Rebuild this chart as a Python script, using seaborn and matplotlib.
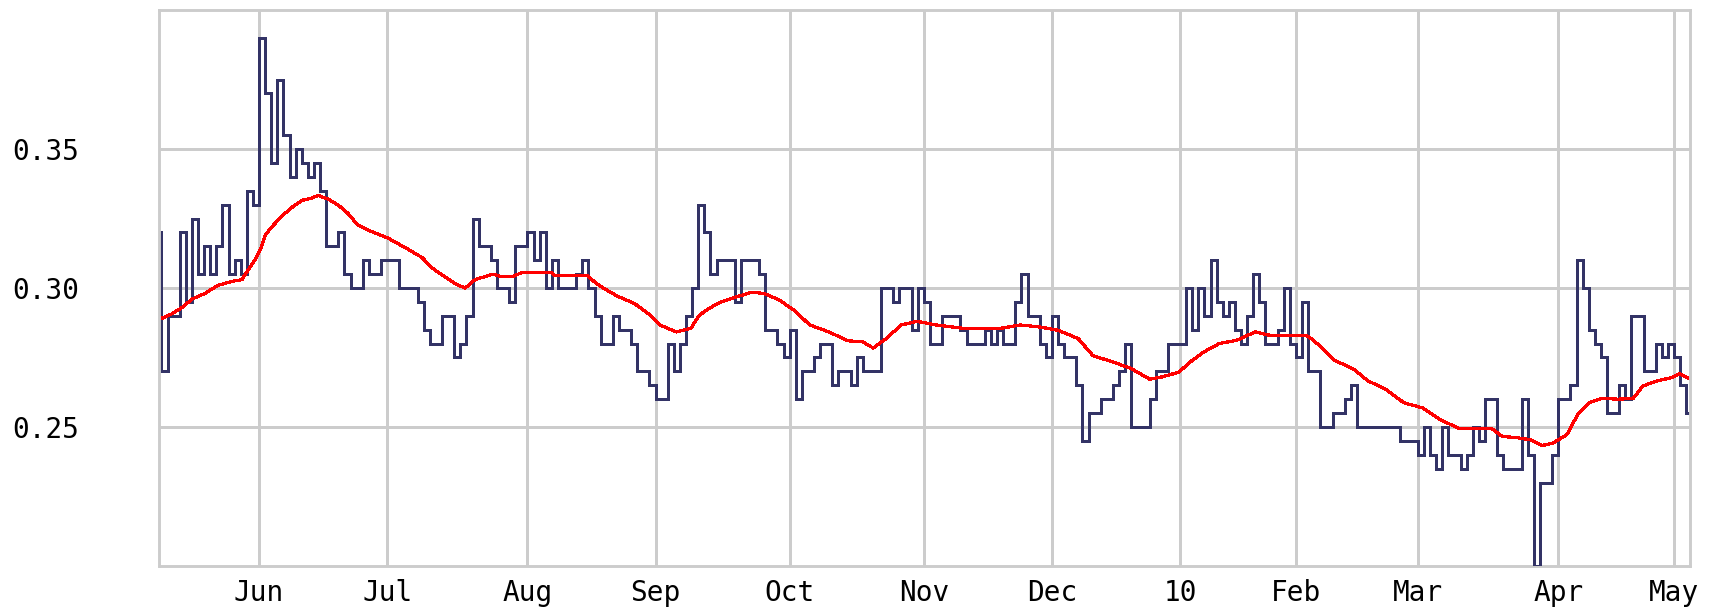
import numpy as np
import pandas as pd
import seaborn as sns
import matplotlib.pyplot as plt

# daily closes, one list per month (trading days only)
may09 = [0.32, 0.27, 0.29, 0.29, 0.32, 0.295, 0.325, 0.305, 0.315, 0.305, 0.315,
         0.33, 0.305, 0.31, 0.305, 0.335, 0.33]
jun09 = [0.39, 0.37, 0.345, 0.375, 0.355, 0.34, 0.35, 0.345, 0.34, 0.345, 0.335,
         0.315, 0.315, 0.32, 0.305, 0.30, 0.30, 0.31, 0.305, 0.305, 0.31]
jul09 = [0.31, 0.31, 0.30, 0.30, 0.30, 0.295, 0.285, 0.28, 0.28, 0.29, 0.29, 0.275,
         0.28, 0.29, 0.325, 0.315, 0.315, 0.31, 0.30, 0.30, 0.295, 0.315, 0.315]
aug09 = [0.32, 0.31, 0.32, 0.30, 0.31, 0.30, 0.30, 0.30, 0.305, 0.31, 0.30, 0.29,
         0.28, 0.28, 0.29, 0.285, 0.285, 0.28, 0.27, 0.27, 0.265]
sep09 = [0.26, 0.26, 0.28, 0.27, 0.28, 0.29, 0.30, 0.33, 0.32, 0.305, 0.31, 0.31,
         0.31, 0.295, 0.31, 0.31, 0.31, 0.305, 0.285, 0.285, 0.28, 0.275]
oct09 = [0.285, 0.26, 0.27, 0.27, 0.275, 0.28, 0.28, 0.265, 0.27, 0.27, 0.265, 0.275,
         0.27, 0.27, 0.27, 0.30, 0.30, 0.295, 0.30, 0.30, 0.285, 0.30]
nov09 = [0.295, 0.28, 0.28, 0.29, 0.29, 0.29, 0.285, 0.28, 0.28, 0.28, 0.285, 0.28,
         0.285, 0.28, 0.28, 0.295, 0.305, 0.29, 0.29, 0.28, 0.275]
dec09 = [0.29, 0.28, 0.275, 0.275, 0.265, 0.245, 0.255, 0.255, 0.26, 0.26, 0.265,
         0.27, 0.28, 0.25, 0.25, 0.25, 0.26, 0.27, 0.27, 0.28, 0.28]
jan10 = [0.28, 0.30, 0.285, 0.30, 0.29, 0.31, 0.295, 0.29, 0.295, 0.285, 0.28, 0.29,
         0.305, 0.295, 0.28, 0.28, 0.285, 0.30, 0.28]
feb10 = [0.275, 0.295, 0.27, 0.27, 0.25, 0.25, 0.255, 0.255, 0.26, 0.265, 0.25, 0.25,
         0.25, 0.25, 0.25, 0.25, 0.25, 0.245, 0.245, 0.245]
mar10 = [0.24, 0.25, 0.24, 0.235, 0.25, 0.24, 0.24, 0.235, 0.24, 0.25, 0.245, 0.26,
         0.26, 0.24, 0.235, 0.235, 0.235, 0.26, 0.24, 0.20, 0.23, 0.23, 0.24]
apr10 = [0.26, 0.26, 0.265, 0.31, 0.30, 0.285, 0.28, 0.275, 0.255, 0.255, 0.265, 0.26,
         0.29, 0.29, 0.27, 0.27, 0.28, 0.275, 0.28]
may10 = [0.275, 0.265, 0.255, 0.24]

month_labels = ["Jun", "Jul", "Aug", "Sep", "Oct", "Nov", "Dec", "10",
                "Feb", "Mar", "Apr", "May"]

# moving average (red), trading-day position and value
ma_pos = [0.0, 1.1, 2.7, 4.4, 6.0, 8.1, 10.3, 12.6, 14.2, 15.2, 16.3, 17.2, 18.0,
          19.1, 20.8, 22.4, 24.0, 25.7, 26.7, 28.3, 30.0, 31.6, 33.2, 34.9, 38.1,
          41.4, 43.7, 45.5, 47.5, 49.6, 50.8, 52.4, 55.4, 56.8, 58.5, 60.1, 65.0,
          65.5, 70.9, 72.1, 73.4, 75.8, 78.5, 81.3, 82.7, 85.4, 87.8, 89.1, 90.3,
          92.2, 94.7, 97.8, 99.8, 102.2, 104.7, 107.3, 110.4, 113.6, 116.0, 117.7,
          119.8, 122.3, 124.9, 128.0, 132.4, 138.6, 141.8, 144.9, 148.0, 151.3,
          153.7, 157.5, 160.0, 163.0, 165.0, 167.8, 169.6, 171.9, 174.4, 177.3,
          180.3, 182.7, 186.8, 188.6, 189.5, 191.1, 193.4, 196.4, 198.8, 201.7,
          204.7, 207.7, 210.6, 213.6, 216.7, 219.0, 220.8, 223.1, 225.5, 227.3,
          229.1, 231.4, 233.2, 235.0, 237.2, 239.8, 242.3, 243.9, 246.3, 248.6,
          249.9, 251.7]
ma_val = [0.290, 0.289, 0.2907, 0.293, 0.296, 0.298, 0.301, 0.3024, 0.303, 0.3065,
          0.310, 0.3137, 0.319, 0.322, 0.326, 0.329, 0.3315, 0.3324, 0.3333, 0.332,
          0.3298, 0.3268, 0.3226, 0.3208, 0.318, 0.314, 0.311, 0.307, 0.304, 0.301,
          0.300, 0.303, 0.305, 0.304, 0.304, 0.3056, 0.3056, 0.3044, 0.3044, 0.302,
          0.300, 0.297, 0.2945, 0.290, 0.2867, 0.2842, 0.2855, 0.290, 0.292, 0.2945,
          0.2964, 0.2985, 0.298, 0.2958, 0.292, 0.2867, 0.2842, 0.281, 0.2806,
          0.2784, 0.2818, 0.2867, 0.288, 0.2867, 0.2855, 0.2855, 0.2867, 0.286,
          0.2848, 0.2818, 0.2757, 0.273, 0.271, 0.2672, 0.268, 0.2697, 0.2733,
          0.277, 0.280, 0.2812, 0.2842, 0.283, 0.283, 0.283, 0.2818, 0.2788, 0.2739,
          0.2709, 0.2666, 0.2636, 0.2587, 0.2569, 0.2527, 0.2496, 0.2496, 0.2496,
          0.2466, 0.2462, 0.2454, 0.2433, 0.2442, 0.2472, 0.2545, 0.2587, 0.2603,
          0.260, 0.2603, 0.2648, 0.2666, 0.2678, 0.2691, 0.2672]

monthly = [may09, jun09, jul09, aug09, sep09, oct09, nov09, dec09,
           jan10, feb10, mar10, apr10, may10]
price = sum(monthly, [])
df = pd.DataFrame({"day": np.arange(len(price)), "close": price})
month_starts = np.cumsum([len(m) for m in monthly])[:-1]

sns.set_style("white")
plt.rcParams["font.family"] = ["DejaVu Sans Mono"]

W, H = 1719, 608
fig = plt.figure(figsize=(W / 100, H / 100), dpi=100)
ax = fig.add_axes([159 / W, 42 / H, 1531 / W, 556 / H])

grey = "#cccccc"
lw_grid = 2.1
sns.lineplot(data=df, x="day", y="close", ax=ax, color="#333366", linewidth=2.1,
             drawstyle="steps-post", estimator=None, sort=False, antialiased=False)
sns.lineplot(x=ma_pos, y=ma_val, ax=ax, color="#ff0000", linewidth=1.6,
             estimator=None, sort=False, antialiased=False)

ax.set_xlim(0.6, 251.6)
ax.set_ylim(0.20, 0.40)
ax.set_xlabel("")
ax.set_ylabel("")

ax.set_yticks([0.25, 0.30, 0.35])
ax.set_yticklabels(["0.25", "0.30", "0.35"])
ax.set_xticks(month_starts)
ax.set_xticklabels(month_labels)

ax.grid(True, color=grey, linewidth=lw_grid, antialiased=False)
ax.set_axisbelow(True)

for side in ["left", "right", "top"]:
    ax.spines[side].set_color(grey)
    ax.spines[side].set_linewidth(lw_grid)
ax.spines["bottom"].set_position(("outward", 5))
ax.spines["bottom"].set_visible(False)
ax.axhline(0.20, color=grey, linewidth=lw_grid, clip_on=False, zorder=0.5)

ax.tick_params(axis="y", length=3.6, width=lw_grid, color=grey, pad=54,
               labelsize=20, labelcolor="black")
ax.tick_params(axis="x", length=3.6, width=2.0, color="#666699", pad=1,
               labelsize=20, labelcolor="black")

fig.savefig("out.png", dpi=100)
